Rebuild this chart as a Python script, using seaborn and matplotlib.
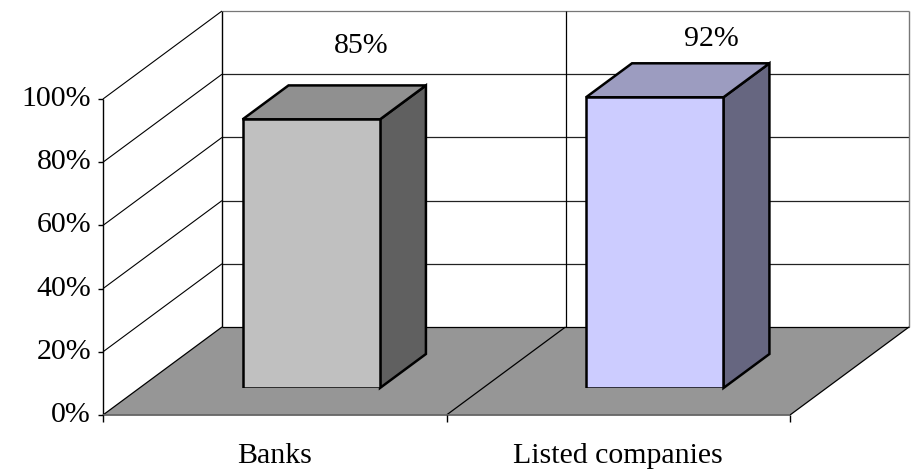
import matplotlib
matplotlib.use("Agg")
import matplotlib.pyplot as plt
from matplotlib.patches import Polygon
import numpy as np
import pandas as pd
import seaborn as sns

# Chart data
categories = ["Banks", "Listed companies"]
values = [85, 92]
value_labels = ["85%", "92%"]
y_ticks = [0, 20, 40, 60, 80, 100]
y_tick_labels = ["0%", "20%", "40%", "60%", "80%", "100%"]

# Face colours of each box: front, top, side
front_colors = ["#C0C0C0", "#CCCCFF"]
top_colors = ["#909090", "#9C9CC0"]
side_colors = ["#606060", "#666680"]
floor_color = "#969696"

# Label offsets (pixels) from the front-top centre of each box
label_offsets = [(50, 73), (57, 58)]

sns.set_theme(style="white")
plt.rcParams["font.family"] = ["Liberation Serif", "DejaVu Serif"]
FS = 21.5

W, H, DPI = 913, 473, 100
fig = plt.figure(figsize=(W / DPI, H / DPI), dpi=DPI)

# Front plane of the plot box (pixels)
left_px, right_px, bottom_px, top_px = 103, 790, 415, 99
depth_dx, depth_dy = 119, 88          # pixel offset of the back wall
bar_front_depth, bar_back_depth = 0.307, 0.693


def rect(dx=0.0, dy=0.0):
    return [(left_px + dx) / W, (H - bottom_px + dy) / H,
            (right_px - left_px) / W, (bottom_px - top_px) / H]


ax = fig.add_axes(rect())
ax.set_xlim(-0.5, 1.5)
ax.set_ylim(0, 100)
ax.axis("off")

px_per_x = (right_px - left_px) / 2.0
px_per_y = (bottom_px - top_px) / 100.0
ddx = depth_dx / px_per_x
ddy = depth_dy / px_per_y

x0, x1 = -0.5, 1.5
# Back wall
ax.add_patch(Polygon([(x0 + ddx, ddy), (x1 + ddx, ddy), (x1 + ddx, 100 + ddy),
                      (x0 + ddx, 100 + ddy)], closed=True, facecolor="white",
                     edgecolor="none", clip_on=False, zorder=0))
# Left wall
ax.add_patch(Polygon([(x0, 0), (x0, 100), (x0 + ddx, 100 + ddy), (x0 + ddx, ddy)],
                     closed=True, facecolor="white", edgecolor="none",
                     clip_on=False, zorder=0))
# Floor
ax.add_patch(Polygon([(x0, 0), (x1, 0), (x1 + ddx, ddy), (x0 + ddx, ddy)],
                     closed=True, facecolor=floor_color, edgecolor="none",
                     clip_on=False, zorder=0.5))

line_kw = dict(clip_on=False, solid_capstyle="butt")
for v in y_ticks[1:]:
    # gridline on the back wall and its diagonal on the left wall
    gcol = "#777777" if v == 100 else "#222222"
    ax.plot([x0 + ddx, x1 + ddx], [v + ddy, v + ddy], color=gcol, lw=0.9,
            zorder=0.6, **line_kw)
    ax.plot([x0, x0 + ddx], [v, v + ddy], color="black", lw=0.8, zorder=0.6, **line_kw)
# Back wall edges and category divider
ax.plot([x0 + ddx, x0 + ddx], [ddy, 100 + ddy], color="black", lw=1.0, zorder=0.6, **line_kw)
ax.plot([x1 + ddx, x1 + ddx], [ddy, 100 + ddy], color="#777777", lw=1.0, zorder=0.6, **line_kw)
ax.plot([0.5 + ddx, 0.5 + ddx], [ddy, 100 + ddy], color="black", lw=0.9, zorder=0.6, **line_kw)
ax.plot([x0 + ddx, x1 + ddx], [ddy, ddy], color="black", lw=0.9, zorder=0.6, **line_kw)
# Floor diagonals
for xb in (x0, 0.5, x1):
    ax.plot([xb, xb + ddx], [0, ddy], color="black", lw=0.9, zorder=0.7, **line_kw)
# Axes lines
ax.plot([x0, x0], [0, 100], color="black", lw=1.0, zorder=0.8, **line_kw)
ax.plot([x0, x1], [0, 0], color="#666666", lw=1.3, zorder=0.8, **line_kw)

# Tick marks and tick labels
tick_y = 5 / px_per_y
tick_x = 5 / px_per_x
for v, lab in zip(y_ticks, y_tick_labels):
    ax.plot([x0 - tick_x, x0], [v, v], color="black", lw=1.0, **line_kw)
    ax.text(x0 - 12 / px_per_x, v, lab, ha="right", va="center", fontsize=FS,
            color="black")
for xb in (x0, 0.5, x1):
    ax.plot([xb, xb], [0, -7 / px_per_y], color="black", lw=1.0, **line_kw)
for i, c in enumerate(categories):
    ax.text(i, -41 / px_per_y, c, ha="center", va="center", fontsize=FS,
            color="black")

# Boxes: front faces from seaborn on a plane set back inside the plot box
ax_bar = fig.add_axes(rect(bar_front_depth * depth_dx, bar_front_depth * depth_dy))
ax_bar.patch.set_alpha(0)

df = pd.DataFrame({"category": categories, "value": values})
sns.barplot(data=df, x="category", y="value", hue="category",
            palette=front_colors, saturation=1, width=0.4, edgecolor="black",
            linewidth=1.8, legend=False, ax=ax_bar, zorder=3)
ax_bar.set_xlim(-0.5, 1.5)
ax_bar.set_ylim(0, 100)
ax_bar.axis("off")

bdx = (bar_back_depth - bar_front_depth) * depth_dx / px_per_x
bdy = (bar_back_depth - bar_front_depth) * depth_dy / px_per_y
bars = sorted(ax_bar.patches, key=lambda p: p.get_x())
for i, p in enumerate(bars):
    bx, bw, bh = p.get_x(), p.get_width(), p.get_height()
    top = [(bx, bh), (bx + bw, bh), (bx + bw + bdx, bh + bdy), (bx + bdx, bh + bdy)]
    side = [(bx + bw, 0), (bx + bw + bdx, bdy), (bx + bw + bdx, bh + bdy), (bx + bw, bh)]
    ax_bar.add_patch(Polygon(side, closed=True, facecolor=side_colors[i],
                             edgecolor="black", lw=1.8, joinstyle="miter",
                             clip_on=False, zorder=2))
    ax_bar.add_patch(Polygon(top, closed=True, facecolor=top_colors[i],
                             edgecolor="black", lw=1.8, joinstyle="miter",
                             clip_on=False, zorder=2))
    ox, oy = label_offsets[i]
    ax_bar.annotate(value_labels[i], xy=(bx + bw / 2, bh), xytext=(ox * 0.72, oy * 0.72),
                    textcoords="offset points", ha="center", va="center",
                    fontsize=FS, color="black", annotation_clip=False)

fig.savefig("out.png", dpi=DPI, facecolor="white")
